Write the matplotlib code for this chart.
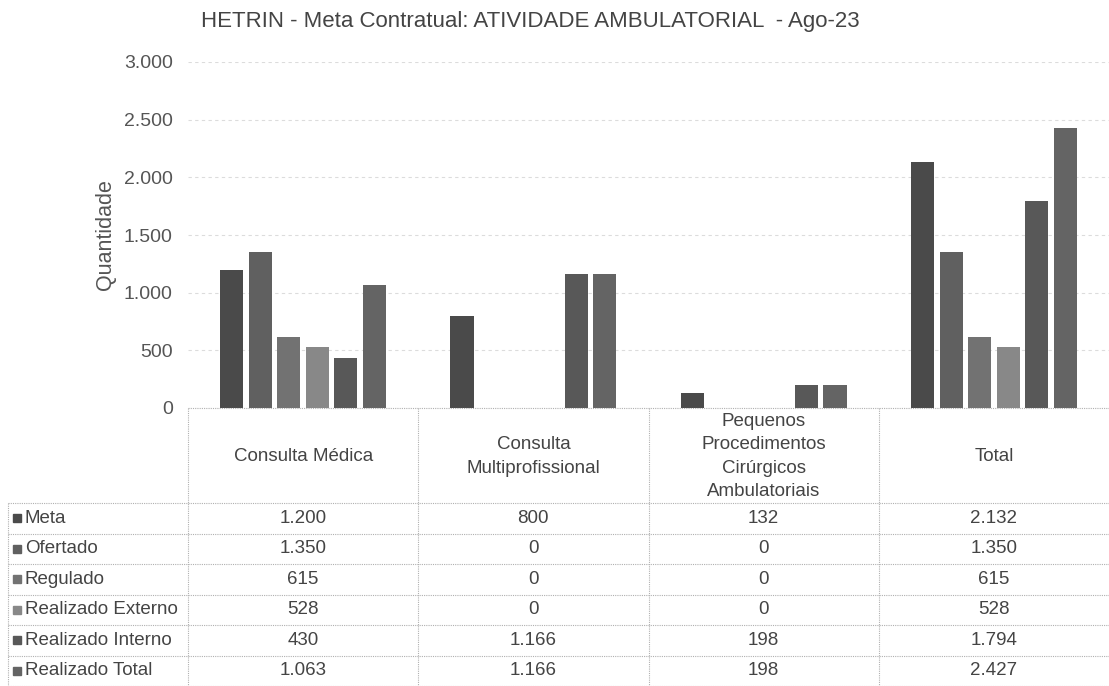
import matplotlib
matplotlib.use("Agg")
import matplotlib.pyplot as plt
import numpy as np

categories = ["Consulta Médica", "Consulta\nMultiprofissional",
              "Pequenos\nProcedimentos\nCirúrgicos\nAmbulatoriais", "Total"]
series_names = ["Meta", "Ofertado", "Regulado", "Realizado Externo",
                "Realizado Interno", "Realizado Total"]
meta = [1200, 800, 132, 2132]
ofertado = [1350, 0, 0, 1350]
regulado = [615, 0, 0, 615]
realizado_externo = [528, 0, 0, 528]
realizado_interno = [430, 1166, 198, 1794]
realizado_total = [1063, 1166, 198, 2427]
yticks = [0, 500, 1000, 1500, 2000, 2500, 3000]

series = [meta, ofertado, regulado, realizado_externo, realizado_interno, realizado_total]
colors = ["#4a4a4a", "#606060", "#727272", "#888888", "#585858", "#646464"]


def fmt(v):
    return f"{v:,}".replace(",", ".")


W, H = 1109, 686
fig = plt.figure(figsize=(W / 100, H / 100), dpi=100)
plt.rcParams["font.family"] = ["Liberation Sans", "DejaVu Sans"]
txt_color = "#444444"

# chart area
x0, x1 = 188, 1109
y_zero, y_top = 408, 62
ax = fig.add_axes([x0 / W, 1 - y_zero / H, (x1 - x0) / W, (y_zero - y_top) / H])
x = np.arange(len(categories))
step = 0.124
for i, vals in enumerate(series):
    ax.bar(x + (i - 2.5) * step, vals, width=0.1, color=colors[i], zorder=3)
ax.set_xlim(-0.5, len(categories) - 0.5)
ax.set_ylim(0, 3000)
ax.set_yticks(yticks)
ax.set_yticklabels([fmt(v) for v in yticks], fontsize=14, color="#555555")
ax.tick_params(axis="y", length=0, pad=11)
ax.set_xticks([])
for s in ["top", "right", "left", "bottom"]:
    ax.spines[s].set_visible(False)
ax.grid(axis="y", color="#dcdcdc", linestyle=(0, (3, 3)), linewidth=0.8, zorder=0)
ax.set_ylabel("Quantidade", fontsize=15.5, color="#555555", labelpad=6)

fig.text(530 / W, 1 - 22 / H, "HETRIN - Meta Contratual: ATIVIDADE AMBULATORIAL  - Ago-23",
         ha="center", va="center", fontsize=16, color=txt_color)

# data table drawn in pixel coordinates
tb = fig.add_axes([0, 0, 1, 1], facecolor="none")
tb.set_xlim(0, W)
tb.set_ylim(H, 0)
tb.axis("off")
line_kw = dict(color="#b0b0b0", linewidth=0.8, linestyle=(0, (1, 1)))
col_w = (x1 - x0) / len(categories)
col_edges = [x0 + k * col_w for k in range(len(categories) + 1)]
header_bottom = 503
row_h = 30.5
row_edges = [header_bottom + k * row_h for k in range(len(series) + 1)]

tb.plot([x0, x1], [y_zero, y_zero], **line_kw)
for xe in col_edges[:-1]:
    tb.plot([xe, xe], [y_zero, row_edges[-1]], **line_kw)
tb.plot([8, 8], [header_bottom, row_edges[-1]], **line_kw)
for ye in row_edges:
    tb.plot([8, x1], [ye, ye], **line_kw)

for k, cat in enumerate(categories):
    tb.text(col_edges[k] + col_w / 2, (y_zero + header_bottom) / 2 + 1, cat,
            ha="center", va="center", fontsize=13.5, color=txt_color, linespacing=1.5)

for i, (name, vals) in enumerate(zip(series_names, series)):
    yc = row_edges[i] + row_h / 2
    tb.add_patch(plt.Rectangle((13, yc - 4), 8, 8, color=colors[i]))
    tb.text(25, yc, name, ha="left", va="center", fontsize=13.5, color=txt_color)
    for k, v in enumerate(vals):
        tb.text(col_edges[k] + col_w / 2, yc, fmt(v), ha="center", va="center",
                fontsize=13.5, color=txt_color)

fig.savefig("out.png", dpi=100)
